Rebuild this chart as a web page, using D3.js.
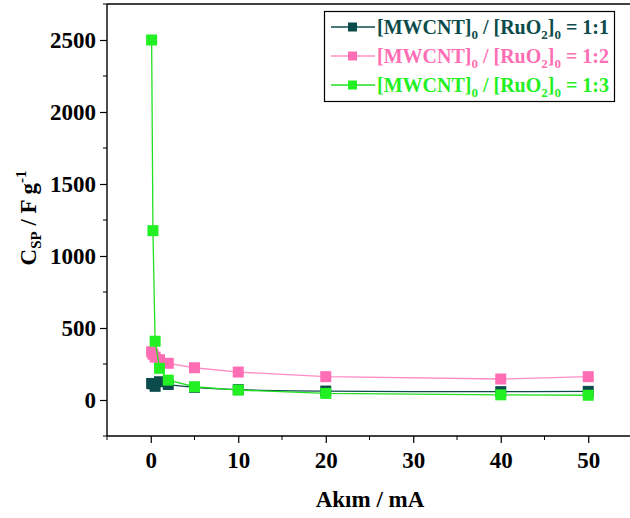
<!DOCTYPE html>
<html><head><meta charset="utf-8">
<script src="https://cdn.jsdelivr.net/npm/d3@7"></script>
<style>
body{margin:0;background:#fff;}
text{font-family:"Liberation Serif","Times New Roman",serif;font-weight:bold;}
</style></head>
<body><svg id="c" width="630" height="518" font-family="Liberation Serif" font-weight="bold"></svg>
<script>
const currents = [0.1, 0.25, 0.5, 1, 2, 5, 10, 20, 40, 50];
const ratio11 = [115, 112, 95, 127, 108, 88, 72, 62, 58, 60];
const ratio12 = [335, 318, 298, 280, 255, 224, 194, 162, 146, 162];
const ratio13 = [2500, 1176, 408, 220, 138, 92, 69, 46, 36, 33];
const seriesNames = ["1:1", "1:2", "1:3"];
const xTicks = [0, 10, 20, 30, 40, 50];
const yTicks = [0, 500, 1000, 1500, 2000, 2500];

const colors = ["#0b4b4b", "#ff6eb4", "#22f022"];
const lineColors = ["#0b4b4b", "#ff8cc4", "#22e022"];
const curves = [d3.curveCatmullRom.alpha(0.5), d3.curveLinear, d3.curveLinear];

const svg = d3.select("#c");
const L = 107, R = 632, T = 4, B = 436;
const x = d3.scaleLinear().domain([-5, 55]).range([L, R]);
const y = d3.scaleLinear().domain([-250, 2750]).range([B, T]);

svg.append("line").attr("x1", L).attr("x2", 632).attr("y1", T).attr("y2", T)
  .attr("stroke", "#000").attr("stroke-width", 1.6);

const xAxis = svg.append("g").attr("transform", `translate(0,${B})`)
  .call(d3.axisBottom(x).tickValues(xTicks).tickSize(7).tickPadding(9).tickFormat(d3.format("d")));
xAxis.append("g").selectAll("line").data(d3.range(-5, 56, 10)).join("line")
  .attr("x1", d => x(d)).attr("x2", d => x(d)).attr("y1", 0).attr("y2", 4).attr("stroke", "#000");
const yAxis = svg.append("g").attr("transform", `translate(${L},0)`)
  .call(d3.axisLeft(y).tickValues(yTicks).tickSize(7).tickPadding(4).tickFormat(d3.format("d")));
yAxis.append("g").selectAll("line").data(d3.range(-250, 2751, 500)).join("line")
  .attr("x1", 0).attr("x2", -4).attr("y1", d => y(d)).attr("y2", d => y(d)).attr("stroke", "#000");
[xAxis, yAxis].forEach(a => {
  a.attr("font-family", "Liberation Serif");
  a.select(".domain").attr("stroke", "#000").attr("stroke-width", 1.4);
  a.selectAll(".tick line").attr("stroke", "#000").attr("stroke-width", 1.2);
  a.selectAll(".tick text").attr("font-size", 23).attr("font-weight", "bold").attr("fill", "#000");
});
yAxis.select(".domain").attr("d", `M0,${B}V${T}`);
xAxis.select(".domain").attr("d", `M${L},0H${R}`);

const all = [ratio11, ratio12, ratio13];
all.forEach((vals, i) => {
  const pts = currents.map((c, j) => [c, vals[j]]);
  svg.append("path").datum(pts)
    .attr("d", d3.line().x(d => x(d[0])).y(d => y(d[1])).curve(curves[i]))
    .attr("fill", "none").attr("stroke", lineColors[i]).attr("stroke-width", 1.3);
  svg.append("g").selectAll("rect").data(pts).join("rect")
    .attr("x", d => x(d[0]) - 5.5).attr("y", d => y(d[1]) - 5.5)
    .attr("width", 11).attr("height", 11).attr("fill", colors[i]);
});

const lg = svg.append("g");
lg.append("rect").attr("x", 324.5).attr("y", 11.5).attr("width", 290).attr("height", 90)
  .attr("fill", "#fff").attr("stroke", "#000").attr("stroke-width", 1.2);
seriesNames.forEach((n, i) => {
  const cy = 27 + i * 29;
  lg.append("line").attr("x1", 331).attr("x2", 375).attr("y1", cy).attr("y2", cy)
    .attr("stroke", lineColors[i]).attr("stroke-width", 1.5);
  lg.append("rect").attr("x", 348).attr("y", cy - 4.5).attr("width", 9).attr("height", 9).attr("fill", colors[i]);
  const t = lg.append("text").attr("x", 377).attr("y", cy + 7).attr("font-size", 20).attr("fill", colors[i]);
  t.append("tspan").text("[MWCNT]");
  t.append("tspan").text("0").attr("font-size", 13).attr("dy", 5);
  t.append("tspan").text(" / [RuO").attr("dy", -5);
  t.append("tspan").text("2").attr("font-size", 13).attr("dy", 5);
  t.append("tspan").text("]").attr("dy", -5);
  t.append("tspan").text("0").attr("font-size", 13).attr("dy", 5);
  t.append("tspan").text(" = " + n).attr("dy", -5);
});

svg.append("text").attr("x", 370).attr("y", 507).attr("text-anchor", "middle")
  .attr("font-size", 23).text("Akım / mA");
const yt = svg.append("text").attr("transform", "translate(36,218) rotate(-90)")
  .attr("text-anchor", "middle").attr("font-size", 23);
yt.append("tspan").text("C");
yt.append("tspan").text("SP").attr("font-size", 15).attr("dy", 5);
yt.append("tspan").text(" / F g").attr("dy", -5);
yt.append("tspan").text("-1").attr("font-size", 15).attr("dy", -10);
</script></body></html>
